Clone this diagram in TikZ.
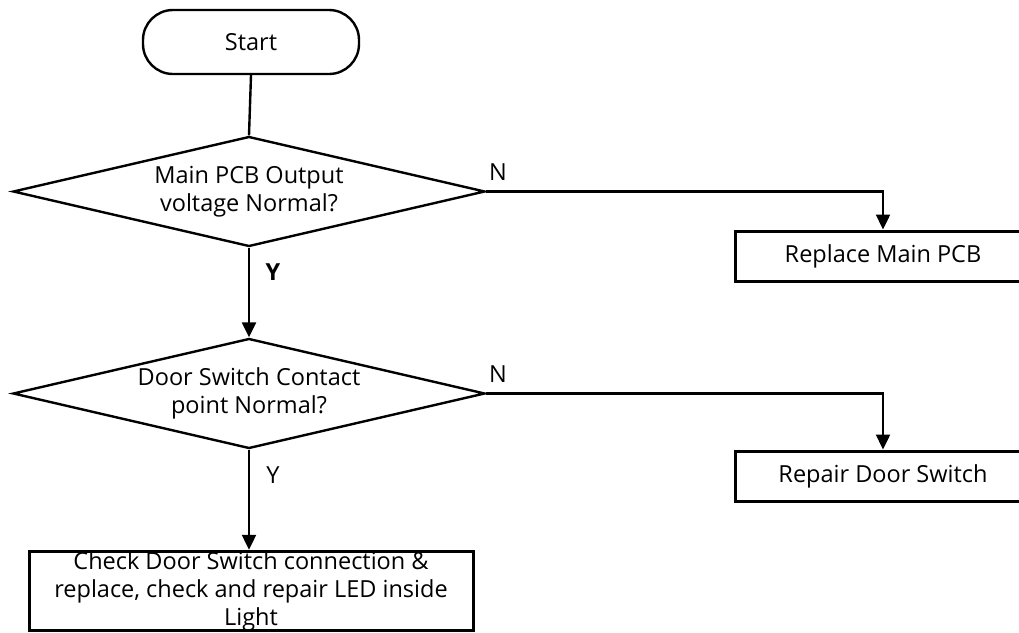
\documentclass[tikz,border=0pt]{standalone}
\usepackage{fontspec}
\setmainfont{Open Sans}
\usepackage{xcolor}
\usepackage{tikz}
\usetikzlibrary{positioning,arrows.meta,calc,shapes.geometric}
\tikzset{
  flow/.style={line width=2.4pt, draw=black},
  flowarr/.style={flow, -{Triangle[length=15pt,width=14pt]}},
  term/.style={draw, line width=2.4pt, rounded corners=30pt, minimum width=216pt,
               minimum height=64pt, inner sep=0pt, font=\fontsize{23.5}{28}\selectfont},
  ask/.style={draw, diamond, line width=2.4pt, aspect=4.25, minimum width=472pt,
              minimum height=110pt, inner sep=0pt, align=center,
              font=\fontsize{23.5}{28}\selectfont},
  act/.style={draw, rectangle, line width=3pt, minimum width=296pt, minimum height=50pt,
              inner sep=0pt, align=center, font=\fontsize{23.5}{28}\selectfont},
  yn/.style={font=\fontsize{23.5}{28}\selectfont},
}
\begin{document}
\begin{tikzpicture}[x=1pt,y=1pt]
\useasboundingbox (0,0) rectangle (1019,-632);
% flow blocks
\node[term] (start) at (251,-42) {Start};
\node[ask] (pcbok) at (249,-191.5) {Main PCB Output\\voltage Normal?};
\node[ask] (doorok) at (249,-393.5) {Door Switch Contact\\point Normal?};
\node[act] (newpcb) at (883,-256) {Replace Main PCB};
\node[act] (fixdoor) at (883,-476) {Repair Door Switch};
\node[act, minimum width=444pt, minimum height=78pt] (checkled) at (251,-591)
  {Check Door Switch connection \&\\replace, check and repair LED inside\\Light};
% answers
\node[yn] (n1) at (498,-172) {N};
\node[yn] (n2) at (498,-374) {N};
\node[yn, font=\fontsize{23.5}{28}\selectfont\bfseries] (y1) at (273,-272) {Y};
\node[yn] (y2) at (273,-475) {Y};
% connectors
\draw[flow] (start.south) -- (pcbok.north);
\draw[flowarr] (pcbok.south) -- (doorok.north);
\draw[flowarr] (pcbok.east) -| (newpcb.north);
\draw[flowarr] (doorok.east) -| (fixdoor.north);
\draw[flowarr] (doorok.south) -- (checkled.north -| doorok.south);
\end{tikzpicture}
\end{document}
